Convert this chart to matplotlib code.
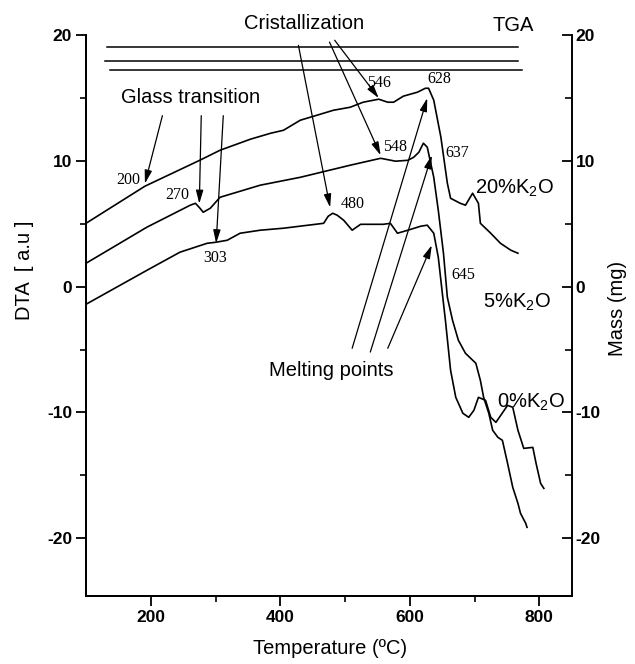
import matplotlib
matplotlib.use("Agg")
import matplotlib.pyplot as plt
from matplotlib.ticker import MultipleLocator, FixedLocator

plt.rcParams["font.family"] = ["Liberation Sans", "DejaVu Sans"]
plt.rcParams["axes.unicode_minus"] = False
plt.rcParams["mathtext.fontset"] = "custom"
plt.rcParams["mathtext.rm"] = "Liberation Sans"
plt.rcParams["mathtext.it"] = "Liberation Sans:italic"
plt.rcParams["mathtext.bf"] = "Liberation Sans:bold"

# DTA curves (temperature in C, signal in a.u.)
t_20 = [100, 191, 276, 307, 354, 385, 405, 431, 457, 482, 508, 528, 552, 566, 575,
        590, 612, 624, 629, 637, 648, 658, 663, 678, 686, 697, 706, 709, 725, 740, 756, 767]
dta_20 = [5.04, 7.99, 10.06, 10.85, 11.73, 12.20, 12.44, 13.24, 13.64, 14.03, 14.27, 14.67,
          14.91, 14.67, 14.67, 15.15, 15.47, 15.78, 15.78, 14.83, 11.89, 8.23, 7.03, 6.63,
          6.48, 7.43, 6.63, 5.04, 4.25, 3.45, 2.90, 2.66]

t_5 = [100, 194, 261, 269, 276, 281, 292, 307, 369, 431, 508, 555, 578, 597, 606, 614, 621,
       627, 637, 644, 652, 658, 666, 675, 686, 702, 709, 714, 722, 728, 736, 743, 751, 759,
       767, 771, 779, 781]
dta_5 = [1.86, 4.73, 6.48, 6.63, 6.24, 5.92, 6.24, 7.11, 8.07, 8.70, 9.66, 10.21, 9.98,
         10.05, 10.29, 10.69, 11.41, 11.09, 8.70, 6.08, 2.66, -0.84, -2.67, -4.26, -5.30,
         -6.09, -7.45, -8.80, -10.07, -11.42, -11.98, -12.22, -14.05, -15.96, -17.23,
         -18.03, -18.82, -19.14]

t_0 = [100, 194, 245, 287, 300, 318, 338, 369, 405, 467, 474, 481, 488, 498, 511, 524, 559,
       570, 581, 597, 617, 627, 637, 644, 652, 655, 663, 671, 682, 691, 699, 706, 717, 725,
       733, 751, 759, 767, 776, 790, 795, 802, 807]
dta_0 = [-1.40, 1.30, 2.74, 3.45, 3.53, 3.69, 4.25, 4.49, 4.65, 5.04, 5.60, 5.84, 5.68, 5.28,
         4.49, 4.96, 4.96, 5.04, 4.25, 4.49, 4.81, 4.89, 4.25, 2.34, -1.32, -2.67, -6.65,
         -8.80, -10.07, -10.39, -9.83, -8.80, -9.04, -10.39, -10.79, -9.44, -9.59, -11.42,
         -12.86, -12.78, -14.05, -15.64, -16.04]

# TGA lines (mass in mg): start temp, end temp, mass
tga_start = [132, 129, 137]
tga_end = [767, 767, 773]
tga_mass = [19.05, 17.96, 17.24]

# peak labels
peak_labels = ["200", "270", "303", "480", "546", "548", "628", "637", "645"]
peak_x = [165, 241, 300, 512, 552, 578, 646, 674, 683]
peak_y = [8.5, 7.3, 2.3, 6.6, 16.2, 11.1, 16.5, 10.6, 0.9]

# arrows (start -> end), data coords
glass_from = [(218, 13.6), (278, 13.6), (312, 13.6)]
glass_to = [(191, 8.2), (275, 6.6), (301, 3.45)]
crys_from = [(428, 19.2), (476, 19.45), (484, 19.6)]
crys_to = [(477, 6.3), (555, 10.45), (552, 15.0)]
melt_from = [(511, -4.9), (539, -5.2), (566, -4.9)]
melt_to = [(627, 15.0), (634, 10.45), (634, 3.3)]

fig = plt.figure(figsize=(6.35, 6.64), dpi=100)
ax = fig.add_axes([0.1354, 0.1024, 0.7649, 0.8446])
ax2 = ax.twinx()

lw = 1.2
ax.plot(t_20, dta_20, color="k", lw=lw)
ax.plot(t_5, dta_5, color="k", lw=lw)
ax.plot(t_0, dta_0, color="k", lw=lw)
for s, e, m in zip(tga_start, tga_end, tga_mass):
    ax2.plot([s, e], [m, m], color="k", lw=1.1)

ax.set_xlim(100, 850)
ax.set_ylim(-24.6, 20)
ax2.set_ylim(-24.6, 20)

for a in (ax, ax2):
    a.spines["top"].set_visible(False)
    for sp in a.spines.values():
        sp.set_linewidth(1.4)

ax.spines["right"].set_visible(False)
ax.xaxis.set_major_locator(MultipleLocator(200))
ax.xaxis.set_minor_locator(FixedLocator([300, 500, 700]))
ax.yaxis.set_major_locator(MultipleLocator(10))
ax.yaxis.set_minor_locator(MultipleLocator(5))
ax2.yaxis.set_major_locator(MultipleLocator(10))
ax2.yaxis.set_minor_locator(MultipleLocator(5))

ax.tick_params(axis="both", which="major", direction="out", length=7, width=1.3,
               labelsize=12.5, pad=3)
ax.tick_params(axis="both", which="minor", direction="out", length=4, width=1.2)
ax2.tick_params(axis="y", which="major", direction="in", length=7, width=1.3,
                labelsize=12.5, pad=3)
ax2.tick_params(axis="y", which="minor", direction="in", length=5, width=1.2)
for lab in ax.get_xticklabels() + ax.get_yticklabels() + ax2.get_yticklabels():
    lab.set_fontweight("bold")

fig.text(0.039, 0.593, "DTA  [ a.u ]", rotation=90, ha="center", va="center", fontsize=14.5)
fig.text(0.972, 0.535, "Mass (mg)", rotation=90, ha="center", va="center", fontsize=14.5)
fig.text(0.52, 0.024, "Temperature (ºC)", ha="center", va="center", fontsize=14.5)

ap = dict(arrowstyle="-|>,head_length=0.8,head_width=0.22", color="k", lw=0.9,
          shrinkA=0, shrinkB=0, mutation_scale=10)
for s, e in zip(glass_from + crys_from + melt_from, glass_to + crys_to + melt_to):
    ax.annotate("", xy=e, xytext=s, arrowprops=ap, annotation_clip=False)

ax.text(261, 15.07, "Glass transition", ha="center", va="center", fontsize=14.5)
ax.text(436, 20.95, "Cristallization", ha="center", va="center", fontsize=14.5, clip_on=False)
ax.text(759, 20.8, "TGA", ha="center", va="center", fontsize=14.5, clip_on=False)
ax.text(479, -6.65, "Melting points", ha="center", va="center", fontsize=14.5)
ax.text(700, 7.8, "20%K$_2$O", ha="left", va="center", fontsize=14.5)
ax.text(713, -1.25, "5%K$_2$O", ha="left", va="center", fontsize=14.5)
ax.text(735, -9.2, "0%K$_2$O", ha="left", va="center", fontsize=14.5)

for lab, x, y in zip(peak_labels, peak_x, peak_y):
    ax.text(x, y, lab, ha="center", va="center", fontsize=11.5, family="Liberation Serif")

fig.savefig("out.png", dpi=100)
